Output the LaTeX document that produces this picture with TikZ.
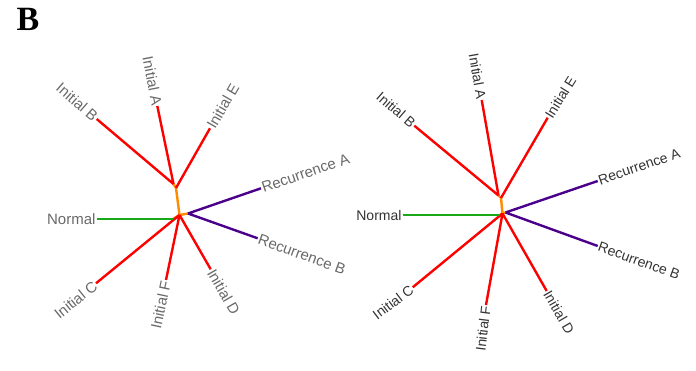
\documentclass[tikz,border=0pt]{standalone}
\usepackage{fontspec}
\setmainfont{Liberation Serif}
\setsansfont{Liberation Sans}
\definecolor{tred}{RGB}{255,0,0}
\definecolor{tgreen}{RGB}{24,168,24}
\definecolor{tpurple}{RGB}{75,0,140}
\definecolor{torange}{RGB}{255,140,0}
\definecolor{lgray}{RGB}{105,105,105}
\definecolor{dgray}{RGB}{51,51,51}

\begin{document}
\begin{tikzpicture}[x=1pt,y=-1pt,
  br/.style={line width=2.4pt},
  lab/.style={font=\sffamily\fontsize{15}{15}\selectfont,text=lgray,inner sep=1pt},
  rlab/.style={font=\sffamily\fontsize{14}{14}\selectfont,text=dgray,inner sep=1pt}]
\useasboundingbox (0,0) rectangle (696,371);
\node[font=\bfseries\fontsize{34}{34}\selectfont,inner sep=0pt] (panel) at (28,19) {B};

% left tree
\coordinate (lj1) at (173.5,184);
\coordinate (lj2) at (176,188);
\coordinate (lh) at (179.5,215);
\coordinate (lr) at (188,213.5);
\coordinate (ln) at (173,219);
\node[lab,anchor=east] (lnorm) at (96.7,219) {Normal};
\node[lab,anchor=east,rotate=-41] (lB) at (96.7,119) {Initial B};
\node[lab,anchor=east,rotate=-79] (lA) at (157.3,106) {Initial A};
\node[lab,anchor=west,rotate=60] (lE) at (210,128.3) {Initial E};
\node[lab,anchor=west,rotate=19] (lRA) at (261,188.3) {Recurrence A};
\node[lab,anchor=west,rotate=-20] (lRB) at (257.7,238.3) {Recurrence B};
\node[lab,anchor=west,rotate=-60] (lD) at (210.7,269.3) {Initial D};
\node[lab,anchor=east,rotate=78] (lF) at (166,280) {Initial F};
\node[lab,anchor=east,rotate=39] (lC) at (96,283.3) {Initial C};
\draw[br,torange] (lj1)--(lj2)--(lh)--(lr) (lh)--(ln);
\draw[br,tred] (lj1)--(lB.east) (lj1)--(lA.east) (lj2)--(lE.west);
\draw[br,tred] (lh)--(lD.west) (lh)--(lF.east) (lh)--(lC.east);
\draw[br,tgreen] (ln)--(lnorm.east);
\draw[br,tpurple] (lr)--(lRA.west) (lr)--(lRB.west);

% right tree
\coordinate (rj1) at (498.5,195.5);
\coordinate (rj2) at (501,198);
\coordinate (rh) at (502.5,213.5);
\coordinate (rr) at (505.5,212.5);
\coordinate (rn) at (500,215);
\node[rlab,anchor=east] (rnorm) at (402.7,215) {Normal};
\node[rlab,anchor=east,rotate=-41] (rB) at (414.3,125.7) {Initial B};
\node[rlab,anchor=east,rotate=-80] (rA) at (481.7,100) {Initial A};
\node[rlab,anchor=west,rotate=58] (rE) at (547.7,117.7) {Initial E};
\node[rlab,anchor=west,rotate=19] (rRA) at (597.7,181) {Recurrence A};
\node[rlab,anchor=west,rotate=-20] (rRB) at (597.7,246) {Recurrence B};
\node[rlab,anchor=west,rotate=-60] (rD) at (546.7,291) {Initial D};
\node[rlab,anchor=east,rotate=83] (rF) at (486,305) {Initial F};
\node[rlab,anchor=east,rotate=37] (rC) at (412.7,287.3) {Initial C};
\draw[br,torange] (rj1)--(rj2)--(rh)--(rr) (rh)--(rn);
\draw[br,tred] (rj1)--(rB.east) (rj1)--(rA.east) (rj2)--(rE.west);
\draw[br,tred] (rh)--(rD.west) (rh)--(rF.east) (rh)--(rC.east);
\draw[br,tgreen] (rn)--(rnorm.east);
\draw[br,tpurple] (rr)--(rRA.west) (rr)--(rRB.west);
\end{tikzpicture}
\end{document}
